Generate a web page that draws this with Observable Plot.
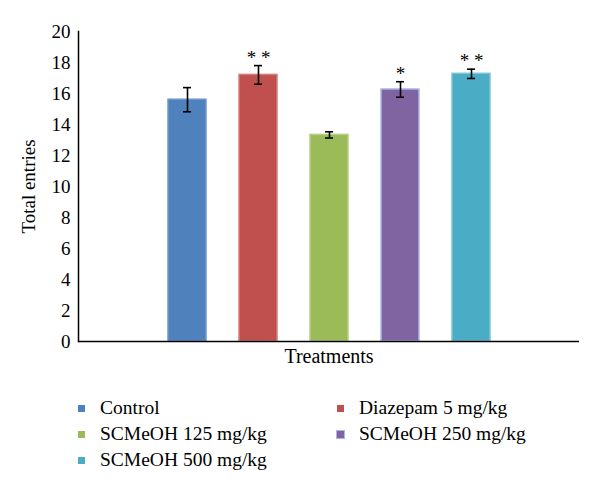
<!DOCTYPE html>
<html>
<head>
<meta charset="utf-8">
<script src="https://cdn.jsdelivr.net/npm/d3@7"></script>
<script src="https://cdn.jsdelivr.net/npm/@observablehq/plot@0.6"></script>
<style>
  html, body { margin: 0; padding: 0; background: #fff; }
  #wrap { position: relative; width: 600px; height: 492px; font-family: "Liberation Serif", serif; color: #000; }
  #chart { position: absolute; left: 0; top: 0; }
  .leg { position: absolute; font-size: 19.5px; line-height: 22px; white-space: nowrap; }
  .leg .sw { position: absolute; left: 0; top: 8px; width: 7px; height: 7px; }
  .leg .lb { position: absolute; left: 22px; top: 0; }
</style>
</head>
<body>
<div id="wrap">
  <div id="chart"></div>
  <div id="legend"></div>
</div>
<script>
const categories = ["Control", "Diazepam 5 mg/kg", "SCMeOH 125 mg/kg", "SCMeOH 250 mg/kg", "SCMeOH 500 mg/kg"];
const means = [15.6, 17.2, 13.33, 16.26, 17.27];
const errors = [0.78, 0.6, 0.2, 0.5, 0.3];
const stars = ["", "* *", "", "*", "* *"];
const colors = ["#4F81BD", "#C0504D", "#9BBB59", "#8064A2", "#4BACC6"];
const borders = ["#6f97cc", "#d27d7a", "#b5cf85", "#a9b8e6", "#7cc3d6"];
const yTicks = [0, 2, 4, 6, 8, 10, 12, 14, 16, 18, 20];

const data = categories.map((c, i) => ({
  cat: c, mean: means[i], lo: means[i] - errors[i], hi: means[i] + errors[i],
  star: stars[i], fill: colors[i], border: borders[i]
}));

const chart = Plot.plot({
  width: 600,
  height: 372,
  marginLeft: 78,
  marginRight: 21,
  marginTop: 31,
  marginBottom: 31,
  style: { fontFamily: "Liberation Serif, serif", fontSize: "19px", color: "#000", background: "#fff" },
  x: { domain: categories, paddingInner: 0.467, paddingOuter: 1.25, axis: null },
  y: { domain: [0, 20] },
  color: { type: "identity" },
  marks: [
    Plot.axisY({ ticks: yTicks, tickSize: 0, tickPadding: 8, fontSize: 19, label: "Total entries", labelArrow: "none", labelAnchor: "center", labelOffset: 57 }),
    Plot.barY(data, { x: "cat", y: "mean", fill: "fill", stroke: "border", strokeWidth: 1.5 }),
    Plot.ruleX(data, { x: "cat", y1: "lo", y2: "hi", stroke: "#000", strokeWidth: 1.6 }),
    Plot.tickY(data, { x: "cat", y: "lo", stroke: "#000", strokeWidth: 1.6, insetLeft: 15, insetRight: 15 }),
    Plot.tickY(data, { x: "cat", y: "hi", stroke: "#000", strokeWidth: 1.6, insetLeft: 15, insetRight: 15 }),
    Plot.text(data.filter(d => d.star), { x: "cat", y: "hi", text: "star", lineAnchor: "bottom", dy: -2, fontSize: 19, fill: "#000" }),
    Plot.ruleY([0], { stroke: "#000", strokeWidth: 1.5 }),
    Plot.frame({ anchor: "left", stroke: "#000", strokeWidth: 1.5 }),
    Plot.text(["Treatments"], { frameAnchor: "bottom", lineAnchor: "top", dy: 7, fontSize: 20, fill: "#000" })
  ]
});
document.getElementById("chart").appendChild(chart);

// legend (HTML, below the SVG)
const legendPos = [
  { left: 78, top: 397 }, { left: 337, top: 397 },
  { left: 78, top: 423 }, { left: 337, top: 423 },
  { left: 78, top: 449 }
];
const legend = document.getElementById("legend");
categories.forEach((c, i) => {
  const el = document.createElement("div");
  el.className = "leg";
  el.style.left = legendPos[i].left + "px";
  el.style.top = legendPos[i].top + "px";
  const sw = document.createElement("span");
  sw.className = "sw";
  sw.style.background = colors[i];
  if (i === 3) sw.style.boxShadow = "0 0 0 1px " + borders[i];
  const lb = document.createElement("span");
  lb.className = "lb";
  lb.textContent = c;
  el.appendChild(sw); el.appendChild(lb);
  legend.appendChild(el);
});
</script>
</body>
</html>
